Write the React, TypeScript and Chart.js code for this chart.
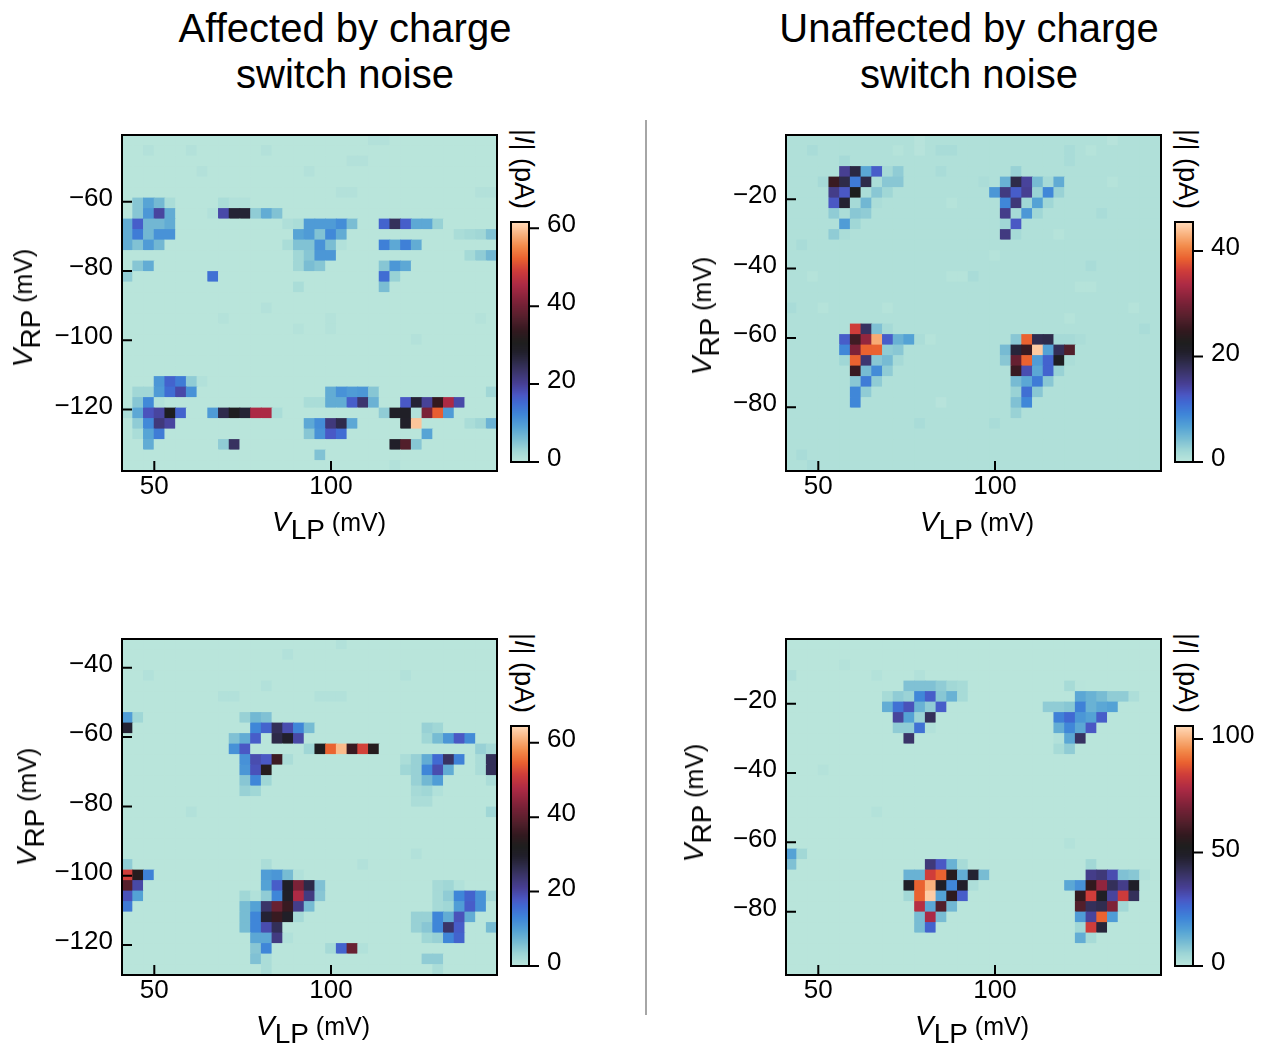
import React, { useEffect, useRef } from "react";
import { Chart, registerables } from "chart.js";
Chart.register(...registerables);

const FONT = '"Liberation Sans", Arial, sans-serif';
const COLS = 35;
const ROWS = 32;

// Every row: [rowIndex, col, value(pA), col, value(pA), ...]
const cellsA = [
  [6, 1,5, 2,9, 3,6.5, 4,2, 9,2, 10,1.2, 11,1.2],
  [7, 1,5, 2,10.4, 3,19.5, 4,8, 8,1.2, 9,19, 10,27.5, 11,27.5, 12,4.3, 13,8, 14,5.5],
  [8, 0,8, 1,16.5, 2,6.7, 3,6.7, 4,8, 15,1.5, 16,2, 17,10, 18,10, 19,10, 20,11.6, 21,6, 24,16, 25,24.4, 26,16.5, 27,8.5, 28,8.5, 29,3.7],
  [9, 0,8, 1,13.4, 2,6.7, 3,11, 4,11, 16,9, 17,10, 18,5.5, 19,12, 20,8, 31,2, 32,2.5, 33,3, 34,5.5],
  [10, 0,8, 1,5.5, 2,10, 3,6.7, 15,2, 16,5.5, 17,5.5, 18,11, 19,6, 20,1.2, 24,13, 25,8.5, 26,13, 27,8],
  [11, 16,3, 17,5, 18,10.4, 19,10.4, 32,2.5, 33,4.3, 34,6.7],
  [12, 1,5, 2,8, 16,3, 17,6, 18,5, 24,5, 25,10.4, 26,8.5],
  [13, 0,4.3, 8,14.6, 24,15, 25,3.7],
  [14, 16,2, 24,6],
  [23, 3,10.4, 4,16, 5,13.4, 6,4.3, 7,1.2],
  [24, 1,3, 2,3, 3,10, 4,15, 5,19, 6,11, 19,8, 20,11, 21,10, 22,10.4, 23,5, 34,3],
  [25, 1,5, 2,12, 3,1.2, 17,2, 18,2, 19,8, 20,8, 21,16.5, 22,23, 23,7.3, 26,17, 27,27.5, 28,20, 29,34, 30,45.6, 31,19],
  [26, 0,2, 1,8.5, 2,17.7, 3,19.5, 4,30.5, 5,16, 8,10, 9,25.6, 10,30.5, 11,27.5, 12,45.6, 13,45.6, 14,2, 24,4.3, 25,29, 26,29, 27,1.2, 28,41, 29,52, 30,10],
  [27, 1,4.3, 2,12, 3,22, 4,19.5, 17,8.5, 18,11.6, 19,22, 20,25.6, 21,8.5, 26,28.7, 27,60, 32,2, 33,3, 34,7.3],
  [28, 1,2, 2,9, 3,13.4, 17,5, 18,11, 19,17, 20,15, 28,9],
  [29, 2,8, 9,4.3, 10,24, 25,28.7, 26,37, 27,5],
  [30, 18,5.5],
  [31, 25,1.2],
];
const faintA = [
  [0, 23,1.1, 24,1.1],
  [1, 2,1.1, 6,1.1, 13,1.1],
  [2, 21,1.1, 22,1.1],
  [3, 7,1.1, 17,1.1],
  [5, 20,1.1, 21,1.1, 33,1.1, 34,1.1],
  [16, 13,1.1],
  [17, 9,1, 19,1, 33,1],
  [18, 16,1, 19,1],
  [19, 27,1.1],
];

const cellsB = [
  [2, 5,1.8],
  [3, 5,15, 6,19.5, 7,6.4, 8,12.3, 9,1.8, 10,3.2, 21,2.7],
  [4, 3,1.8, 4,25.5, 5,19, 6,10, 7,19, 8,1.4, 9,3.6, 10,3.6, 18,1.4, 20,5.5, 21,19, 22,14.6, 23,4.6, 24,1.8, 25,6],
  [5, 4,15.5, 5,12.7, 6,22.8, 7,1.4, 8,3.6, 9,2.3, 19,7.7, 20,16, 21,12.3, 22,15, 23,2.7, 24,9, 25,2.7],
  [6, 4,12.7, 5,20.5, 6,1.8, 7,5, 8,1.4, 20,9, 21,16.4, 22,2.3, 23,6.8, 24,2.3],
  [7, 4,3.2, 5,1.4, 6,3.6, 7,3.2, 20,15.5, 21,1.8, 22,7.7, 23,2.3],
  [8, 5,7.3, 6,2.3, 7,1, 20,2.3, 21,12.7],
  [9, 4,3.2, 5,1.4, 20,16, 21,1.8],
  [18, 6,36.4, 7,17.7, 8,4.1, 9,1.8],
  [19, 5,12.3, 6,26, 7,32, 8,42.8, 9,12.3, 10,5.5, 11,6.8, 12,1.4, 21,3.6, 22,38.7, 23,18.7, 24,19, 25,1.8, 26,1.8, 27,1.4],
  [20, 5,9, 6,30.5, 7,38.7, 8,38.7, 9,3.2, 10,3.6, 20,4.6, 21,20, 22,25.5, 23,44.6, 24,6.8, 25,18.2, 26,27.3],
  [21, 5,2.3, 6,38.7, 7,16.8, 8,3.6, 9,4.6, 10,1.8, 20,3.6, 21,28.7, 22,38.7, 23,7.3, 24,11.8, 25,22, 26,1.4],
  [22, 6,25.5, 7,4.6, 8,8.6, 9,3.2, 21,25.5, 22,13.6, 23,6.4, 24,11.8, 25,2.7],
  [23, 6,3.6, 7,10, 8,3.2, 21,4.6, 22,6.4, 23,10, 24,3.6],
  [24, 6,9, 7,3.2, 21,2.7, 22,10.9, 23,3.6],
  [25, 6,9, 21,4.1, 22,9],
  [26, 21,2.7],
];
const faintB = [
  [0, 12,0.5, 30,0.5],
  [1, 2,1.6, 10,0.6, 12,0.5, 14,1.6, 15,1.6, 26,1.6, 28,0.6],
  [2, 26,1.6],
  [3, 14,1.6],
  [4, 30,0.6],
  [6, 15,0.6],
  [7, 29,1.6],
  [9, 25,0.6],
  [10, 1,1.6],
  [11, 19,0.6],
  [12, 28,1.6],
  [13, 2,0.6, 15,0.6, 16,0.6, 17,1.6],
  [14, 27,0.6, 28,0.6],
  [16, 0,1.6, 3,0.6, 9,0.6, 32,0.6],
  [17, 26,0.6],
  [18, 33,1.6],
  [19, 13,0.6],
  [25, 14,0.5],
  [27, 12,1.6, 19,1.6],
  [30, 1,1.6],
  [31, 2,1.6],
];

const cellsC = [
  [7, 0,10.3, 1,3.2, 11,3.9, 12,7, 13,5.8],
  [8, 0,29, 12,12.9, 13,16.8, 14,25.8, 15,19.4, 16,12.9, 17,6.5, 28,3.9, 29,3.2],
  [9, 10,5.8, 11,8.4, 12,17.4, 14,27, 15,29.7, 16,20, 28,3.2, 29,6.5, 30,11, 31,18, 32,12.3],
  [10, 10,11.6, 11,18, 17,3.2, 18,31.6, 19,55, 20,62, 21,36, 22,52, 23,33.5, 33,3.9, 34,2.6],
  [11, 11,11.6, 12,19.4, 13,18, 14,36.5, 15,2, 26,2, 27,3.9, 28,8.4, 29,16, 30,25, 31,13.5, 33,2, 34,25.8],
  [12, 11,11, 12,18.7, 13,33.5, 26,3.2, 27,3.9, 28,12.9, 29,19.4, 30,8.4, 33,2, 34,25.8],
  [13, 11,5.2, 12,12.9, 13,3.2, 27,3.9, 28,7, 29,10.3, 34,2],
  [14, 11,3.9, 12,3.2, 27,2.6, 28,3.2, 29,1.3],
  [15, 27,2, 28,2],
  [16, 34,3.2],
  [21, 0,4.5, 13,2],
  [22, 0,51.6, 1,33.5, 2,13.5, 13,10.3, 14,11, 15,6.5, 16,1.3],
  [23, 0,39, 1,20, 13,9.7, 14,17.4, 15,30.3, 16,43, 17,27, 18,5.8, 29,2.6, 30,3.2, 31,1.3],
  [24, 0,18.7, 1,9.7, 11,3.2, 12,1.3, 13,4.5, 14,12.9, 15,30.3, 16,47.7, 17,22.6, 18,5.2, 29,2.6, 30,4.5, 31,12.9, 32,16.8, 33,11.6, 34,2.6],
  [25, 0,14.2, 11,6.5, 12,9.7, 13,24.5, 14,41, 15,36, 16,22, 17,6.5, 29,2.6, 30,3.2, 31,10.3, 32,17.4, 33,11.6],
  [26, 11,6.5, 12,12.9, 13,29, 14,36, 15,30.3, 16,2.6, 27,3.9, 28,3.9, 29,12.9, 30,8.4, 31,18.7, 32,8.4],
  [27, 11,6.5, 12,12.9, 13,19.4, 14,25.8, 27,3.9, 28,5.2, 29,12.9, 30,24.5, 31,17.4, 34,6.5],
  [28, 12,9, 13,9, 14,22.6, 15,1.3, 28,3.2, 29,3.9, 30,12.9, 31,16.8],
  [29, 12,5.2, 13,12.9, 19,2.6, 20,16.8, 21,41, 22,1.3],
  [30, 12,5.8, 13,2, 28,4.5, 29,4.5],
  [31, 13,2, 29,2],
];
const faintC = [
  [0, 20,1.2],
  [1, 15,1.2],
  [3, 2,1.2, 26,1.2],
  [4, 13,1.2],
  [5, 9,1.2, 10,1.2, 18,1.2, 19,1.2, 20,1.2],
  [16, 6,1.2],
  [20, 27,1.2],
  [21, 22,1.2],
];

const cellsD = [
  [3, 12,2],
  [4, 11,9.5, 12,9.5, 13,9.5, 14,7.4, 15,5, 16,4, 26,4, 27,1],
  [5, 9,4, 10,7.4, 11,6, 12,21, 13,28.5, 14,8.5, 15,12.7, 16,4, 27,14.8, 28,12.7, 29,10.6, 30,7.4, 31,7.4, 32,3],
  [6, 9,13.7, 10,25, 11,30.7, 12,12.7, 13,7.4, 14,28.5, 24,7.4, 25,7.4, 26,8.5, 27,22, 28,12.7, 29,14.8, 30,15.9],
  [7, 10,33.8, 11,15.9, 12,6, 13,42, 25,22, 26,26.4, 27,18, 28,15.9, 29,28.5],
  [8, 10,7.4, 11,7.4, 12,25, 13,2, 25,13.7, 26,21, 27,14.8, 28,29.6],
  [9, 11,40, 25,2, 26,14.8, 27,41],
  [10, 25,4, 26,7.4],
  [20, 0,15.9, 1,5],
  [21, 0,9.5, 13,38, 14,29.6, 15,12.7, 16,4, 28,5],
  [22, 11,12.7, 12,12.7, 13,84.6, 14,90, 15,55, 16,13.7, 17,47.6, 18,10.6, 28,36, 29,38, 30,31.7, 31,9.5, 32,8.5, 33,2],
  [23, 11,49.7, 12,90, 13,100.4, 14,49.7, 15,21, 16,48.6, 17,3, 26,14.8, 27,19, 28,58, 29,74, 30,42, 31,36, 32,49.7, 33,1],
  [24, 11,5, 12,90, 13,104, 14,15.9, 15,57, 16,28.5, 27,58, 28,84.6, 29,50.7, 30,33.8, 31,84, 32,42],
  [25, 12,80, 13,14.8, 14,63.4, 15,11.6, 27,63.4, 28,42, 29,43.3, 30,71, 31,5],
  [26, 12,10.6, 13,78, 14,10.6, 27,17, 28,33.8, 29,90, 30,17],
  [27, 12,10.6, 13,27.5, 27,5, 28,84.6, 29,46.5],
  [28, 27,13.7, 28,4],
];
const faintD = [
  [3, 0,3, 8,1.8],
  [16, 8,1.8],
  [19, 26,1.8],
  [2, 5,1.6],
  [12, 3,1.6],
];

const xTicks = [50, 100];
const yTicksA = [-60, -80, -100, -120];
const yTicksB = [-20, -40, -60, -80];
const yTicksC = [-40, -60, -80, -100, -120];
const yTicksD = [-20, -40, -60, -80];
const cbTicksA = [0, 20, 40, 60];
const cbTicksB = [0, 20, 40];
const cbTicksC = [0, 20, 40, 60];
const cbTicksD = [0, 50, 100];

const COLOR_STOPS: [number, string][] = [
  [0, "#bde7dc"], [0.05, "#a0d7d6"], [0.1, "#78bcd3"], [0.15, "#54a2d5"], [0.2, "#3f86d8"],
  [0.25, "#4069d2"], [0.28, "#4a57c4"], [0.33, "#473f92"], [0.38, "#3a3468"], [0.42, "#2d2a48"],
  [0.46, "#211f2b"], [0.5, "#1e1e1e"], [0.55, "#33191f"], [0.6, "#521f2b"], [0.67, "#7d2238"],
  [0.74, "#ac2a45"], [0.8, "#cf3d3a"], [0.85, "#ea6230"], [0.9, "#f28a4a"], [0.95, "#f9b27e"], [1, "#ffd9b8"],
];

function hexRgb(h: string) {
  return [1, 3, 5].map((i) => parseInt(h.slice(i, i + 2), 16));
}
function colorAt(f: number) {
  const t = Math.max(0, Math.min(1, f));
  for (let i = 1; i < COLOR_STOPS.length; i++) {
    const [p1, c1] = COLOR_STOPS[i];
    if (t <= p1) {
      const [p0, c0] = COLOR_STOPS[i - 1];
      const k = (t - p0) / (p1 - p0);
      const a = hexRgb(c0), b = hexRgb(c1);
      return `rgb(${a.map((v, j) => Math.round(v + (b[j] - v) * k)).join(",")})`;
    }
  }
  return COLOR_STOPS[COLOR_STOPS.length - 1][1];
}

const PLOT_W = 375;
const PLOT_H = 336;
const PANELS = [
  { left: 122, top: 135, cells: [...faintA, ...cellsA], base: 0.4, vmax: 61.6, yMin: -137.8, yMax: -40.7, yTicks: yTicksA, cbTicks: cbTicksA },
  { left: 786, top: 135, cells: [...faintB, ...cellsB], base: 1, vmax: 45.5, yMin: -98.4, yMax: -1.45, yTicks: yTicksB, cbTicks: cbTicksB },
  { left: 122, top: 639, cells: [...faintC, ...cellsC], base: 0.5, vmax: 64.5, yMin: -128.66, yMax: -31.7, yTicks: yTicksC, cbTicks: cbTicksC },
  { left: 786, top: 639, cells: [...faintD, ...cellsD], base: 0.7, vmax: 105.7, yMin: -98.26, yMax: -1.34, yTicks: yTicksD, cbTicks: cbTicksD },
];
const X_MIN = 40.86;
const X_MAX = 146.97;

const fmt = (v: number) => (v < 0 ? "\u2212" + Math.abs(v) : String(v));

const noPad = (s: any) => { s.paddingTop = 0; s.paddingBottom = 0; s.paddingLeft = 0; s.paddingRight = 0; };

const framePlugin = (outTicks: boolean) => ({
  id: "frame",
  afterDraw(chart: any) {
    const { ctx, chartArea: a, scales } = chart;
    ctx.save();
    ctx.strokeStyle = "#000";
    ctx.lineWidth = 2;
    ctx.strokeRect(a.left, a.top, a.right - a.left, a.bottom - a.top);
    ctx.beginPath();
    if (outTicks) {
      for (const t of scales.y.ticks) {
        const y = scales.y.getPixelForValue(t.value);
        ctx.moveTo(a.right, y);
        ctx.lineTo(a.right + 10, y);
      }
    } else {
      for (const t of scales.y.ticks) {
        const y = scales.y.getPixelForValue(t.value);
        ctx.moveTo(a.left, y);
        ctx.lineTo(a.left + 10, y);
      }
      for (const t of scales.x.ticks) {
        const x = scales.x.getPixelForValue(t.value);
        ctx.moveTo(x, a.bottom);
        ctx.lineTo(x, a.bottom - 10);
      }
    }
    ctx.stroke();
    ctx.restore();
  },
});

function heatChart(canvas: HTMLCanvasElement, p: (typeof PANELS)[number]) {
  const values: number[][] = Array.from({ length: ROWS }, () => new Array(COLS).fill(p.base));
  for (const r of p.cells) for (let i = 1; i < r.length; i += 2) values[r[0]][r[i]] = r[i + 1];
  const dx = (X_MAX - X_MIN) / COLS;
  const dy = (p.yMax - p.yMin) / ROWS;
  const data: any[] = [];
  const colors: string[] = [];
  values.forEach((row, ri) =>
    row.forEach((v, ci) => {
      data.push({ x: X_MIN + (ci + 0.5) * dx, y: [p.yMax - (ri + 1) * dy, p.yMax - ri * dy] });
      colors.push(colorAt(v / p.vmax));
    })
  );
  const tickFont = { family: FONT, size: 26 };
  return new Chart(canvas, {
    type: "bar",
    data: { datasets: [{ data, backgroundColor: colors, barThickness: PLOT_W / COLS, borderWidth: 0, inflateAmount: 0.4 } as any] },
    options: {
      animation: false, responsive: false, maintainAspectRatio: false, events: [],
      layout: { padding: { top: 5, right: 5, left: 0, bottom: 0 } },
      plugins: { legend: { display: false }, tooltip: { enabled: false } },
      scales: {
        x: {
          type: "linear", min: X_MIN, max: X_MAX, offset: false,
          grid: { display: false, drawTicks: false, offset: false }, border: { display: false },
          afterBuildTicks: (s: any) => { s.ticks = xTicks.map((value) => ({ value })); },
          afterFit: (s: any) => { s.height = 40; noPad(s); },
          ticks: { color: "#000", font: tickFont, padding: 0, maxRotation: 0, autoSkip: false, callback: (v: any) => fmt(Number(v)) },
        },
        y: {
          type: "linear", min: p.yMin, max: p.yMax,
          grid: { display: false, drawTicks: false }, border: { display: false },
          afterBuildTicks: (s: any) => { s.ticks = p.yTicks.map((value) => ({ value })); },
          afterFit: (s: any) => { s.width = 80; noPad(s); },
          ticks: { color: "#000", font: tickFont, padding: 9, labelOffset: -3, autoSkip: false, callback: (v: any) => fmt(Number(v)) },
        },
      },
    } as any,
    plugins: [framePlugin(false)],
  });
}

function colorbarChart(canvas: HTMLCanvasElement, p: (typeof PANELS)[number]) {
  const steps = 120;
  const data: any[] = [];
  const colors: string[] = [];
  for (let i = 0; i < steps; i++) {
    data.push({ x: 0.5, y: [(i / steps) * p.vmax, ((i + 1) / steps) * p.vmax] });
    colors.push(colorAt((i + 0.5) / steps));
  }
  return new Chart(canvas, {
    type: "bar",
    data: { datasets: [{ data, backgroundColor: colors, barThickness: 18, borderWidth: 0, inflateAmount: 0.5 } as any] },
    options: {
      animation: false, responsive: false, maintainAspectRatio: false, events: [],
      layout: { padding: { top: 12, left: 2, bottom: 18, right: 0 } },
      plugins: { legend: { display: false }, tooltip: { enabled: false } },
      scales: {
        x: { type: "linear", min: 0, max: 1, display: false, offset: false, grid: { offset: false } },
        y: {
          type: "linear", position: "right", min: 0, max: p.vmax,
          grid: { display: false, drawTicks: false }, border: { display: false },
          afterBuildTicks: (s: any) => { s.ticks = p.cbTicks.map((value) => ({ value })); },
          afterFit: (s: any) => { s.width = 70; noPad(s); },
          ticks: { color: "#000", font: { family: FONT, size: 26 }, padding: 18, labelOffset: -3, autoSkip: false, callback: (v: any) => fmt(Number(v)) },
        },
      },
    } as any,
    plugins: [framePlugin(true)],
  });
}

const abs = (o: React.CSSProperties): React.CSSProperties => ({ position: "absolute", fontFamily: FONT, color: "#000", whiteSpace: "nowrap", ...o });

function AxisLabel({ name, x, y, rotate }: { name: string; x: number; y: number; rotate?: boolean }) {
  return (
    <div style={abs({ left: x, top: y, fontSize: 25, lineHeight: "30px", transform: `translate(-50%,-50%)${rotate ? " rotate(-90deg)" : ""}` })}>
      <i style={{ fontSize: 28 }}>V</i>
      <span style={{ fontSize: 28, position: "relative", top: 8 }}>{name}</span> (mV)
    </div>
  );
}

function CbLabel({ x, y }: { x: number; y: number }) {
  return (
    <div style={abs({ left: x, top: y, fontSize: 27, lineHeight: "30px", transform: "translate(-50%,-50%) rotate(90deg)" })}>
      |<i>I</i>| (pA)
    </div>
  );
}

function Title({ x, lines }: { x: number; lines: string[] }) {
  return (
    <div style={abs({ left: x, top: 5, fontSize: 40, lineHeight: "46px", textAlign: "center", transform: "translateX(-50%)" })}>
      {lines[0]}<br />{lines[1]}
    </div>
  );
}

export default function App() {
  const heatRefs = useRef<(HTMLCanvasElement | null)[]>([]);
  const cbRefs = useRef<(HTMLCanvasElement | null)[]>([]);
  useEffect(() => {
    const charts: Chart[] = [];
    PANELS.forEach((p, i) => {
      charts.push(heatChart(heatRefs.current[i]!, p));
      charts.push(colorbarChart(cbRefs.current[i]!, p));
    });
    return () => charts.forEach((c) => c.destroy());
  }, []);
  return (
    <div style={{ position: "absolute", left: 0, top: 0, width: 1266, height: 1048, background: "#fff", overflow: "hidden" }}>
      {PANELS.map((p, i) => (
        <React.Fragment key={i}>
          <canvas
            ref={(el) => { heatRefs.current[i] = el; }}
            width={80 + PLOT_W + 5}
            height={5 + PLOT_H + 40}
            style={{ position: "absolute", left: p.left - 80, top: p.top - 5 }}
          />
          <canvas
            ref={(el) => { cbRefs.current[i] = el; }}
            width={90}
            height={270}
            style={{ position: "absolute", left: p.left + 389 - 2, top: p.top + 87 - 12 }}
          />
          <CbLabel x={p.left + 402} y={p.top + 34} />
        </React.Fragment>
      ))}
      <Title x={345} lines={["Affected by charge", "switch noise"]} />
      <Title x={969} lines={["Unaffected by charge", "switch noise"]} />
      <AxisLabel name="LP" x={329} y={522} />
      <AxisLabel name="LP" x={977} y={522} />
      <AxisLabel name="LP" x={313} y={1026} />
      <AxisLabel name="LP" x={972} y={1026} />
      <AxisLabel name="RP" x={23} y={308} rotate />
      <AxisLabel name="RP" x={702} y={316} rotate />
      <AxisLabel name="RP" x={27} y={807} rotate />
      <AxisLabel name="RP" x={694} y={803} rotate />
      <div style={{ position: "absolute", left: 645, top: 120, width: 2, height: 895, background: "#a6a6a6" }} />
    </div>
  );
}
